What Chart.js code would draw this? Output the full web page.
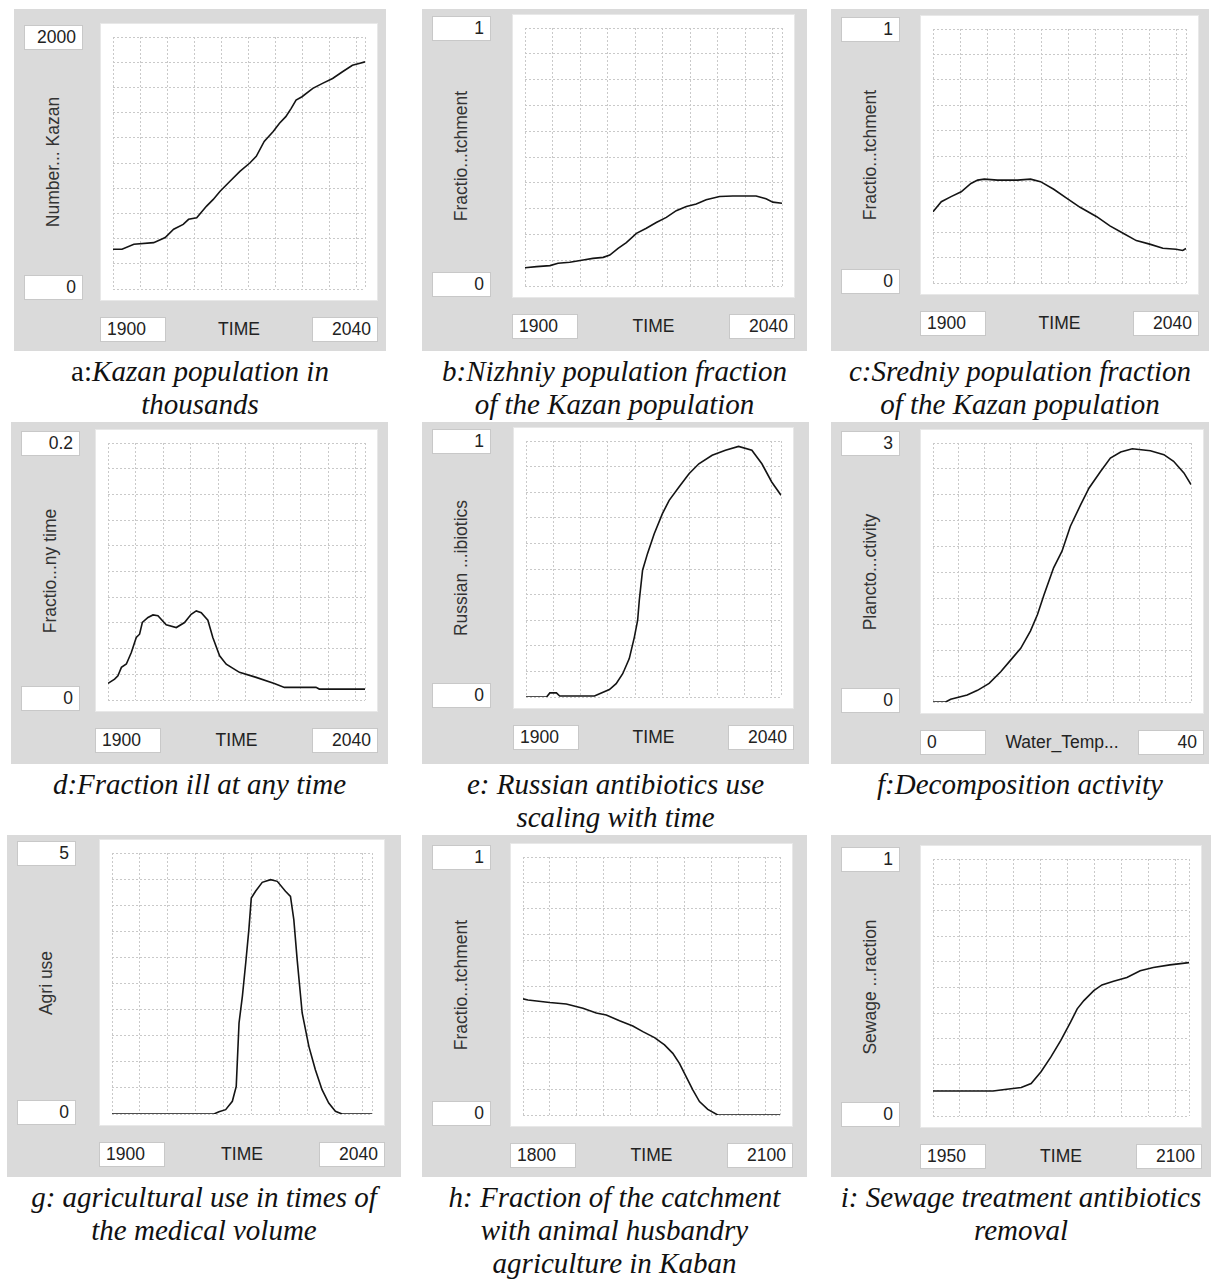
<!DOCTYPE html>
<html>
<head>
<meta charset="utf-8">
<script src="https://cdn.jsdelivr.net/npm/chart.js@4.4.1/dist/chart.umd.min.js"></script>
<style>
    body { margin: 0; background: #fff; width: 1218px; height: 1279px; position: relative; overflow: hidden; }
    .panel { position: absolute; background: #dadada; }
    .plot { position: absolute; background: #fff; border: 1px solid #e8e8e8; box-sizing: border-box; }
    .box { position: absolute; background: #fff; border: 1px solid #c8c8c8; box-sizing: border-box;
           font-family: "Liberation Sans", Arial, sans-serif; font-size: 17.5px; color: #222;
           line-height: 23px; padding: 0 6px; }
    .box.right { text-align: right; }
    .ylab { position: absolute; font-family: "Liberation Sans", Arial, sans-serif; font-size: 17.5px; color: #333;
            transform: translate(-50%, -50%) rotate(-90deg); white-space: nowrap; }
    .xlab { position: absolute; font-family: "Liberation Sans", Arial, sans-serif; font-size: 17.5px; color: #222;
            transform: translateX(-50%); white-space: nowrap; line-height: 25px; }
    .caption { position: absolute; font-family: "Liberation Serif", "Times New Roman", serif; font-style: italic;
               font-size: 29px; line-height: 33px; text-align: center; color: #111; transform: translateX(-50%);
               white-space: nowrap; }
    .caption .up { font-style: normal; }
</style>
</head>
<body>
<script>
// Panel a: Kazan population in thousands
const kazanYears = [1900, 1905, 1911.6, 1922.6, 1929, 1933.7, 1939, 1942, 1946.5, 1952, 1955.7, 1959.5, 1965, 1970.5, 1976, 1979.6, 1984, 1989, 1992.5, 1996, 1999, 2001.7, 2005, 2011, 2016.4, 2022, 2027.5, 2033, 2036.7, 2040];
const kazanPop = [316, 316, 355, 368, 408, 474, 513, 553, 566, 658, 711, 776, 855, 934, 1000, 1053, 1171, 1250, 1316, 1368, 1434, 1500, 1526, 1592, 1632, 1671, 1724, 1776, 1789, 1803];

// Panel b: Nizhniy fraction
const nizhYears = [1900, 1906.3, 1913.6, 1918, 1924.4, 1931.7, 1937, 1942.6, 1946.2, 1950.7, 1955.2, 1960.7, 1966.1, 1971.5, 1977, 1982.4, 1987.9, 1993.3, 1998.7, 2006, 2013.2, 2025.9, 2031.3, 2035, 2040];
const nizhFrac = [0.071, 0.075, 0.079, 0.088, 0.092, 0.101, 0.107, 0.111, 0.12, 0.146, 0.168, 0.204, 0.224, 0.246, 0.266, 0.292, 0.308, 0.318, 0.334, 0.347, 0.349, 0.349, 0.338, 0.325, 0.321];

// Panel c: Sredniy fraction
const sredYears = [1900, 1904.6, 1910, 1915.6, 1921, 1924.7, 1928.4, 1935.7, 1946.7, 1954, 1959.5, 1966.8, 1974.1, 1981.4, 1990.6, 1997.9, 2005.2, 2012.5, 2019.9, 2027.2, 2034.5, 2038.2, 2040];
const sredFrac = [0.281, 0.32, 0.34, 0.359, 0.392, 0.405, 0.409, 0.405, 0.405, 0.409, 0.399, 0.369, 0.333, 0.298, 0.261, 0.225, 0.196, 0.167, 0.153, 0.137, 0.133, 0.128, 0.136];

// Panel d: Fraction ill
const illYears = [1900, 1903.6, 1905.4, 1907.3, 1910, 1912.7, 1915.4, 1917.2, 1918.7, 1921.8, 1924.5, 1927.2, 1931.7, 1937.2, 1941.7, 1945.3, 1948.1, 1950.8, 1954.4, 1957.1, 1960.8, 1964.4, 1971.6, 1980.7, 1990.6, 1996.1, 2013.3, 2015.1, 2040];
const illFrac = [0.0129, 0.0163, 0.0189, 0.0254, 0.028, 0.037, 0.0486, 0.0512, 0.0603, 0.0642, 0.0662, 0.0655, 0.0585, 0.0564, 0.0603, 0.0667, 0.0693, 0.068, 0.0621, 0.0486, 0.0344, 0.0279, 0.0215, 0.0176, 0.0129, 0.0098, 0.0098, 0.0085, 0.0085];

// Panel e: Russian antibiotics
const rusYears = [1900, 1911.3, 1913.1, 1916.7, 1918.5, 1937.6, 1940.4, 1945.8, 1949.5, 1953.1, 1956.7, 1959.5, 1961.3, 1962.2, 1964, 1966.7, 1970.4, 1974.9, 1978.6, 1984, 1989.5, 1994.9, 2002.2, 2009.5, 2016.7, 2024, 2029.5, 2034.9, 2040];
const rusUse = [0, 0, 0.016, 0.016, 0.004, 0.004, 0.013, 0.029, 0.052, 0.091, 0.15, 0.234, 0.3, 0.378, 0.495, 0.56, 0.638, 0.716, 0.768, 0.82, 0.872, 0.911, 0.944, 0.964, 0.979, 0.964, 0.911, 0.84, 0.788];

// Panel f: Decomposition activity vs water temperature
const waterTemp = [0, 1.96, 2.74, 5.3, 6.9, 8.7, 10.5, 12, 13.6, 15.1, 16.2, 17.2, 18.7, 20, 21.3, 22.9, 24.2, 26, 27.5, 29.1, 30.9, 33.7, 35.8, 37.3, 38.9, 40];
const planctoAct = [0, 0, 0.031, 0.081, 0.135, 0.216, 0.351, 0.482, 0.621, 0.821, 1.014, 1.238, 1.554, 1.747, 2.036, 2.287, 2.479, 2.672, 2.826, 2.896, 2.934, 2.911, 2.865, 2.788, 2.653, 2.518];

// Panel g: Agri use
const agriYears = [1900, 1954.9, 1957.6, 1961.2, 1964.8, 1966.9, 1968.4, 1970.2, 1972, 1973.7, 1975, 1977.3, 1980.9, 1985.4, 1989, 1993.4, 1996.1, 1997.9, 1999.7, 2002.4, 2006, 2009.5, 2013.1, 2016.7, 2020.3, 2023.9, 2040];
const agriUse = [0, 0, 0.045, 0.083, 0.243, 0.53, 1.743, 2.254, 2.893, 3.531, 4.138, 4.266, 4.438, 4.489, 4.457, 4.266, 4.17, 3.723, 2.957, 1.935, 1.296, 0.849, 0.466, 0.211, 0.051, 0, 0];

// Panel h: Animal husbandry fraction
const husbYears = [1800, 1805.8, 1831.1, 1850.5, 1870, 1885.5, 1897.2, 1912.7, 1928.2, 1939.9, 1953.5, 1965.2, 1974.9, 1982.6, 1990.4, 1998.2, 2006, 2015.7, 2027.3, 2100];
const husbFrac = [0.45, 0.446, 0.436, 0.43, 0.414, 0.395, 0.388, 0.365, 0.345, 0.323, 0.3, 0.272, 0.239, 0.2, 0.149, 0.097, 0.052, 0.022, 0, 0];

// Panel i: Sewage removal fraction
const sewYears = [1950, 1985.2, 1992, 2001.7, 2007.5, 2013.3, 2019.1, 2024.9, 2030.6, 2034.5, 2038.4, 2044.2, 2049, 2055.8, 2063.6, 2071.4, 2079.1, 2088.8, 2100];
const sewFrac = [0.097, 0.097, 0.103, 0.111, 0.126, 0.172, 0.23, 0.294, 0.365, 0.417, 0.449, 0.488, 0.51, 0.524, 0.539, 0.565, 0.578, 0.588, 0.597];

const panels = [
    { xs: kazanYears, ys: kazanPop, xMin: 1900, xMax: 2040, xStep: 15, yMin: 0, yMax: 2000, yLabel: 'Number... Kazan', xLabel: 'TIME',
      gray: [14, 9, 372, 342], plot: [100, 23, 278, 278], cap: ['<span class="up">a:</span>Kazan population in', 'thousands'] },
    { xs: nizhYears, ys: nizhFrac, xMin: 1900, xMax: 2040, xStep: 15, yMin: 0, yMax: 1, yLabel: 'Fractio...tchment', xLabel: 'TIME',
      gray: [422, 9, 385, 342], plot: [512, 14, 283, 284], cap: ['b:Nizhniy population fraction', 'of the Kazan population'] },
    { xs: sredYears, ys: sredFrac, xMin: 1900, xMax: 2040, xStep: 15, yMin: 0, yMax: 1, yLabel: 'Fractio...tchment', xLabel: 'TIME',
      gray: [831, 9, 378, 342], plot: [920, 15, 279, 280], cap: ['c:Sredniy population fraction', 'of the Kazan population'] },
    { xs: illYears, ys: illFrac, xMin: 1900, xMax: 2040, xStep: 15, yMin: 0, yMax: 0.2, yLabel: 'Fractio...ny time', xLabel: 'TIME',
      gray: [11, 422, 377, 342], plot: [95, 429, 283, 283], cap: ['d:Fraction ill at any time'] },
    { xs: rusYears, ys: rusUse, xMin: 1900, xMax: 2040, xStep: 15, yMin: 0, yMax: 1, yLabel: 'Russian ...ibiotics', xLabel: 'TIME',
      gray: [422, 422, 387, 342], plot: [513, 427, 281, 282], cap: ['e: Russian antibiotics use', 'scaling with time'] },
    { xs: waterTemp, ys: planctoAct, xMin: 0, xMax: 40, xStep: 4, yMin: 0, yMax: 3, yLabel: 'Plancto...ctivity', xLabel: 'Water_Temp...',
      gray: [831, 422, 378, 342], plot: [920, 429, 284, 285], cap: ['f:Decomposition activity'] },
    { xs: agriYears, ys: agriUse, xMin: 1900, xMax: 2040, xStep: 15, yMin: 0, yMax: 5, yLabel: 'Agri use', xLabel: 'TIME',
      gray: [7, 835, 394, 342], plot: [99, 839, 286, 287], cap: ['g: agricultural use in times of', 'the medical volume'] },
    { xs: husbYears, ys: husbFrac, xMin: 1800, xMax: 2100, xStep: 31.5, yMin: 0, yMax: 1, yLabel: 'Fractio...tchment', xLabel: 'TIME',
      gray: [422, 835, 385, 342], plot: [510, 843, 283, 284], cap: ['h: Fraction of the catchment', 'with animal husbandry', 'agriculture in Kaban'] },
    { xs: sewYears, ys: sewFrac, xMin: 1950, xMax: 2100, xStep: 15.8, yMin: 0, yMax: 1, yLabel: 'Sewage ...raction', xLabel: 'TIME',
      gray: [831, 835, 380, 342], plot: [920, 845, 282, 283], cap: ['i: Sewage treatment antibiotics', 'removal'] }
];

function el(cls, styles, html) {
    const d = document.createElement('div');
    d.className = cls;
    Object.assign(d.style, styles);
    if (html !== undefined) d.innerHTML = html;
    document.body.appendChild(d);
    return d;
}

// grid line positions (style only)
function gridTicks(min, max, step) {
    const out = [];
    for (let v = min; v < max - step * 0.05; v += step) out.push({ value: v });
    out.push({ value: max });
    return out;
}

panels.forEach(p => {
    const [gx, gy, gw, gh] = p.gray;
    const [px, py, pw, ph] = p.plot;

    el('panel', { left: gx + 'px', top: gy + 'px', width: gw + 'px', height: gh + 'px' });
    const plot = el('plot', { left: px + 'px', top: py + 'px', width: pw + 'px', height: ph + 'px' });

    // min / max boxes
    const bw = 59, bh = 25;
    el('box right', { left: (gx + 10) + 'px', top: (py + 2) + 'px', width: bw + 'px', height: bh + 'px' }, String(p.yMax));
    el('box right', { left: (gx + 10) + 'px', top: (py + ph - bh - 1) + 'px', width: bw + 'px', height: bh + 'px' }, String(p.yMin));
    const xb = py + ph + 16;
    el('box', { left: px + 'px', top: xb + 'px', width: '66px', height: bh + 'px' }, String(p.xMin));
    el('box right', { left: (px + pw - 66) + 'px', top: xb + 'px', width: '66px', height: bh + 'px' }, String(p.xMax));
    el('xlab', { left: (px + pw / 2) + 'px', top: xb + 'px' }, p.xLabel);
    el('ylab', { left: (gx + 39) + 'px', top: (py + ph / 2) + 'px' }, p.yLabel);

    el('caption', { left: (gx + gw / 2) + 'px', top: (gy + gh + 4) + 'px' }, p.cap.join('<br>'));

    const canvas = document.createElement('canvas');
    canvas.width = pw - 2;
    canvas.height = ph - 2;
    canvas.style.position = 'absolute';
    canvas.style.left = '0px';
    canvas.style.top = '0px';
    plot.appendChild(canvas);

    const gridOpts = { color: '#c9c9c9', lineWidth: 1, drawTicks: false, tickLength: 0 };
    new Chart(canvas.getContext('2d'), {
        type: 'line',
        data: {
            datasets: [{
                data: p.xs.map((x, i) => ({ x: x, y: p.ys[i] })),
                borderColor: '#141414',
                borderWidth: 1.6,
                pointRadius: 0,
                tension: 0,
                fill: false
            }]
        },
        options: {
            responsive: false,
            animation: false,
            layout: { padding: { left: 12, right: 12, top: 13, bottom: 11 } },
            plugins: { legend: { display: false }, tooltip: { enabled: false } },
            scales: {
                x: {
                    type: 'linear', min: p.xMin, max: p.xMax,
                    ticks: { display: false },
                    grid: gridOpts,
                    border: { display: false, dash: [2, 2] },
                    afterBuildTicks: s => { s.ticks = gridTicks(p.xMin, p.xMax, p.xStep); }
                },
                y: {
                    type: 'linear', min: p.yMin, max: p.yMax,
                    ticks: { display: false },
                    grid: gridOpts,
                    border: { display: false, dash: [2, 2] },
                    afterBuildTicks: s => { s.ticks = gridTicks(p.yMin, p.yMax, (p.yMax - p.yMin) / 10); }
                }
            }
        }
    });
});
</script>
</body>
</html>
